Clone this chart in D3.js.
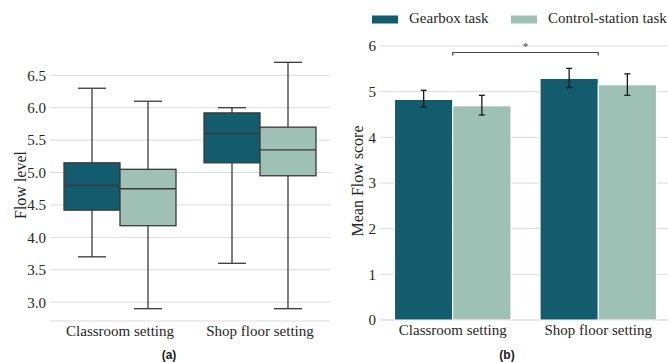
<!DOCTYPE html>
<html>
<head>
<meta charset="utf-8">
<script src="https://cdn.jsdelivr.net/npm/d3@7"></script>
<style>
  html, body { margin: 0; padding: 0; background: #fff; }
  svg { display: block; }
</style>
</head>
<body>
<svg id="fig" width="668" height="362"></svg>
<script>
// Settings and tasks
const settings = ["Classroom setting", "Shop floor setting"];
const tasks = ["Gearbox task", "Control-station task"];
const taskColors = ["#125c6e", "#9fc0b4"];

// Box plot summaries per setting: [gearbox, control-station]
const whiskerLow  = [[3.7, 2.9], [3.6, 2.9]];
const quartile1   = [[4.42, 4.18], [5.15, 4.95]];
const medians     = [[4.8, 4.75], [5.6, 5.35]];
const quartile3   = [[5.15, 5.05], [5.92, 5.7]];
const whiskerHigh = [[6.3, 6.1], [6.0, 6.7]];
const flowTicks = [3.0, 3.5, 4.0, 4.5, 5.0, 5.5, 6.0, 6.5];

// Mean flow scores with error bar bounds
const meanScores = [[4.83, 4.69], [5.29, 5.15]];
const errLow     = [[4.66, 4.49], [5.09, 4.92]];
const errHigh    = [[5.03, 4.92], [5.51, 5.39]];
const scoreTicks = [0, 1, 2, 3, 4, 5, 6];

const SERIF = '"Liberation Serif"';
const SANS = '"Liberation Sans"';
const serifText = (sel, size) => sel
  .style("font-family", SERIF).style("font-size", size + "px").style("fill", "#262626");

const svg = d3.select("#fig");

// ---------- Panel (a): box plots ----------
const xA = d3.scaleBand().domain(settings).range([50, 330]).paddingInner(0).paddingOuter(0);
const yA = d3.scaleLinear().domain([2.71, 6.89]).range([321, 50]);
const gA = svg.append("g");

gA.append("g").selectAll("line").data(flowTicks).join("line")
  .attr("x1", 50).attr("x2", 330)
  .attr("y1", d => yA(d)).attr("y2", d => yA(d))
  .attr("stroke", "#dcdcdc").attr("stroke-width", 1);
gA.append("line").attr("x1", 50).attr("x2", 330)
  .attr("y1", 321).attr("y2", 321).attr("stroke", "#dcdcdc").attr("stroke-width", 1.2);

const axA = gA.append("g").attr("transform", "translate(50,0)")
  .call(d3.axisLeft(yA).tickValues(flowTicks).tickFormat(d3.format(".1f")).tickSize(0).tickPadding(4));
axA.select(".domain").remove();
serifText(axA.selectAll("text"), 15);

const axAx = gA.append("g").attr("transform", "translate(0,321)")
  .call(d3.axisBottom(xA).tickSize(0).tickPadding(4));
axAx.select(".domain").remove();
serifText(axAx.selectAll("text"), 15);

serifText(gA.append("text").attr("transform", "translate(22,185) rotate(-90)")
  .attr("text-anchor", "middle").attr("dominant-baseline", "middle"), 16).text("Flow level");

const inner = d3.scaleBand().domain(d3.range(tasks.length)).range([0, xA.bandwidth() * 0.8]);
const boxes = [];
settings.forEach((s, i) => tasks.forEach((t, j) => boxes.push({ i, j, s })));
const boxG = gA.append("g").selectAll("g").data(boxes).join("g")
  .attr("transform", d => `translate(${xA(d.s) + xA.bandwidth() * 0.1 + inner(d.j)},0)`);
const bw = inner.bandwidth();
const edge = "#3a3a3a";
boxG.append("line").attr("x1", bw / 2).attr("x2", bw / 2)
  .attr("y1", d => yA(whiskerHigh[d.i][d.j])).attr("y2", d => yA(quartile3[d.i][d.j]))
  .attr("stroke", edge).attr("stroke-width", 1.3);
boxG.append("line").attr("x1", bw / 2).attr("x2", bw / 2)
  .attr("y1", d => yA(quartile1[d.i][d.j])).attr("y2", d => yA(whiskerLow[d.i][d.j]))
  .attr("stroke", edge).attr("stroke-width", 1.3);
boxG.append("line").attr("x1", bw / 4).attr("x2", bw * 3 / 4)
  .attr("y1", d => yA(whiskerHigh[d.i][d.j])).attr("y2", d => yA(whiskerHigh[d.i][d.j]))
  .attr("stroke", edge).attr("stroke-width", 1.3);
boxG.append("line").attr("x1", bw / 4).attr("x2", bw * 3 / 4)
  .attr("y1", d => yA(whiskerLow[d.i][d.j])).attr("y2", d => yA(whiskerLow[d.i][d.j]))
  .attr("stroke", edge).attr("stroke-width", 1.3);
boxG.append("rect").attr("x", 0).attr("width", bw)
  .attr("y", d => yA(quartile3[d.i][d.j]))
  .attr("height", d => yA(quartile1[d.i][d.j]) - yA(quartile3[d.i][d.j]))
  .attr("fill", d => taskColors[d.j]).attr("stroke", edge).attr("stroke-width", 1.3);
boxG.append("line").attr("x1", 0).attr("x2", bw)
  .attr("y1", d => yA(medians[d.i][d.j])).attr("y2", d => yA(medians[d.i][d.j]))
  .attr("stroke", edge).attr("stroke-width", 1.3);

svg.append("text").attr("x", 169).attr("y", 359).attr("text-anchor", "middle")
  .style("font-family", SANS).style("font-weight", "bold")
  .style("font-size", "12px").style("fill", "#1a1a1a").text("(a)");

// ---------- Panel (b): bars with error bars ----------
const xB = d3.scaleBand().domain(settings).range([380, 671]).paddingInner(0).paddingOuter(0);
const yB = d3.scaleLinear().domain([0, 6]).range([320, 46]);
const gB = svg.append("g");

gB.append("g").selectAll("line").data(scoreTicks).join("line")
  .attr("x1", 380).attr("x2", 671)
  .attr("y1", d => yB(d)).attr("y2", d => yB(d))
  .attr("stroke", "#dcdcdc").attr("stroke-width", d => d === 0 ? 1.4 : 1);

const axB = gB.append("g").attr("transform", "translate(380,0)")
  .call(d3.axisLeft(yB).tickValues(scoreTicks).tickFormat(d3.format("d")).tickSize(0).tickPadding(4));
axB.select(".domain").remove();
serifText(axB.selectAll("text"), 15);

const axBx = gB.append("g").attr("transform", "translate(0,320)")
  .call(d3.axisBottom(xB).tickSize(0).tickPadding(4));
axBx.select(".domain").remove();
serifText(axBx.selectAll("text"), 15);

serifText(gB.append("text").attr("transform", "translate(359,181) rotate(-90)")
  .attr("text-anchor", "middle").attr("dominant-baseline", "middle"), 16).text("Mean Flow score");

const innerB = d3.scaleBand().domain(d3.range(tasks.length)).range([0, xB.bandwidth() * 0.8]);
const bbw = innerB.bandwidth();
const barG = gB.append("g").selectAll("g").data(boxes).join("g")
  .attr("transform", d => `translate(${xB(d.s) + xB.bandwidth() * 0.1 + innerB(d.j)},0)`);
barG.append("rect").attr("x", 0).attr("width", bbw)
  .attr("y", d => yB(meanScores[d.i][d.j]))
  .attr("height", d => yB(0) - yB(meanScores[d.i][d.j]))
  .attr("fill", d => taskColors[d.j]).attr("stroke", "#ffffff").attr("stroke-width", 1);
barG.append("line").attr("x1", bbw / 2).attr("x2", bbw / 2)
  .attr("y1", d => yB(errHigh[d.i][d.j])).attr("y2", d => yB(errLow[d.i][d.j]))
  .attr("stroke", "#1a1a1a").attr("stroke-width", 1.3);
[errHigh, errLow].forEach(arr => {
  barG.append("line").attr("x1", bbw / 2 - 3).attr("x2", bbw / 2 + 3)
    .attr("y1", d => yB(arr[d.i][d.j])).attr("y2", d => yB(arr[d.i][d.j]))
    .attr("stroke", "#1a1a1a").attr("stroke-width", 1.3);
});

// Significance bracket between the two settings
const cx0 = xB(settings[0]) + xB.bandwidth() / 2;
const cx1 = xB(settings[1]) + xB.bandwidth() / 2;
const bracketY = 52.5;
gB.append("path")
  .attr("d", `M${cx0},${bracketY + 3}V${bracketY}H${cx1}V${bracketY + 3}`)
  .attr("fill", "none").attr("stroke", "#444").attr("stroke-width", 1.2);
gB.append("text").attr("x", (cx0 + cx1) / 2).attr("y", 50).attr("text-anchor", "middle")
  .style("font-family", SERIF).style("font-size", "11px").style("fill", "#444").text("*");

// Legend
const legend = gB.append("g");
const legX = [372, 511];
tasks.forEach((t, j) => {
  legend.append("rect").attr("x", legX[j]).attr("y", 15.5).attr("width", 26).attr("height", 8)
    .attr("fill", taskColors[j]);
  serifText(legend.append("text").attr("x", legX[j] + 37).attr("y", 20)
    .attr("dominant-baseline", "middle"), 15).text(t);
});

svg.append("text").attr("x", 507).attr("y", 359).attr("text-anchor", "middle")
  .style("font-family", SANS).style("font-weight", "bold")
  .style("font-size", "12px").style("fill", "#1a1a1a").text("(b)");
</script>
</body>
</html>
